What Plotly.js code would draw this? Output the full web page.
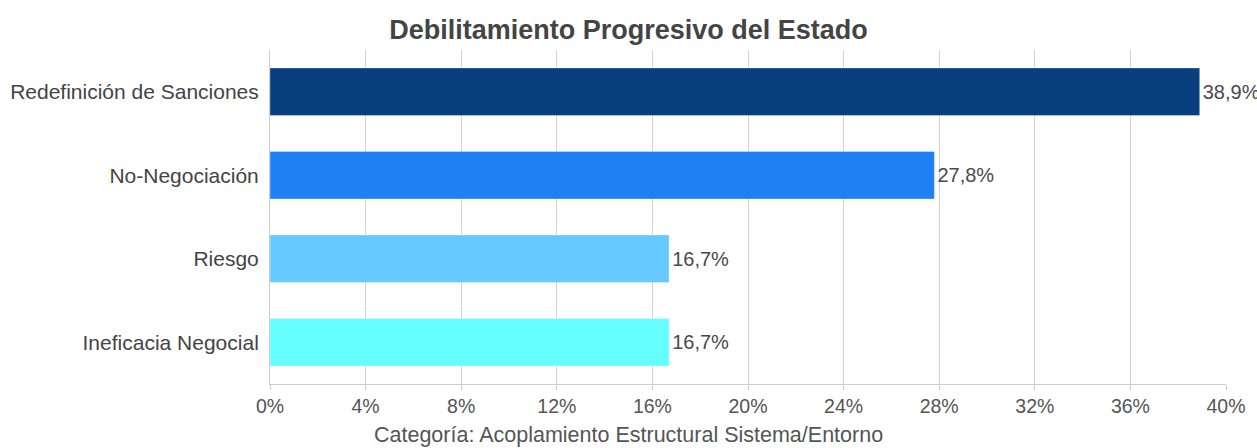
<!DOCTYPE html>
<html>
<head>
<meta charset="utf-8">
<script src="https://cdn.plot.ly/plotly-3.0.1.min.js"></script>
<style>html,body{margin:0;padding:0;background:#fff;}#chart{width:1257px;height:448px;}</style>
</head>
<body>
<div id="chart"></div>
<script>
const categories = ["Redefinición de Sanciones", "No-Negociación", "Riesgo", "Ineficacia Negocial"];
const values = [38.9, 27.8, 16.7, 16.7];
const colors = ["#083f7f", "#1f80f3", "#66c9ff", "#66ffff"];
const tickVals = [0, 4, 8, 12, 16, 20, 24, 28, 32, 36, 40];
const xTitle = "Categoría: Acoplamiento Estructural Sistema/Entorno";

const trace = {
  type: "bar",
  orientation: "h",
  y: categories,
  x: values,
  marker: {color: colors, line: {color: "rgba(255,255,255,0.35)", width: 1}},
  text: values.map(v => v.toFixed(1).replace(".", ",") + "%"),
  textposition: "outside",
  cliponaxis: false,
  textfont: {family: "Liberation Sans, Arial, sans-serif", size: 20, color: "#4a4a4a"},
  hoverinfo: "none"
};

const layout = {
  width: 1257, height: 448,
  margin: {l: 270, r: 31, t: 50, b: 64},
  paper_bgcolor: "#fff", plot_bgcolor: "#fff",
  separators: ",.",
  font: {family: "Liberation Sans, Arial, sans-serif", size: 20, color: "#4a4a4a"},
  title: {text: "<b>Debilitamiento Progresivo del Estado</b>", x: 0.5, xanchor: "center", y: 0.935, yanchor: "middle",
          font: {size: 27, color: "#444"}},
  bargap: 0.43,
  showlegend: false,
  xaxis: {
    range: [0, 40], tickvals: tickVals, ticktext: tickVals.map(v => v + "%"),
    showgrid: true, gridcolor: "#d3d3d3", gridwidth: 1,
    showline: true, linecolor: "#ccc", linewidth: 1,
    ticks: "outside", ticklen: 5, tickcolor: "#ccc",
    zeroline: false,
    tickfont: {size: 19.5, color: "#555"},
    fixedrange: true
  },
  yaxis: {
    autorange: "reversed",
    showline: true, linecolor: "#ccc", linewidth: 1,
    ticks: "", ticklen: 0,
    tickfont: {size: 21, color: "#444"},
    ticklabelstandoff: 6,
    fixedrange: true
  },
  annotations: [{
    text: xTitle, xref: "paper", yref: "paper", x: 0.375, y: -0.152,
    xanchor: "center", yanchor: "middle", showarrow: false,
    font: {size: 21.5, color: "#555"}
  }]
};

Plotly.newPlot("chart", [trace], layout, {displayModeBar: false, staticPlot: true});
</script>
</body>
</html>
